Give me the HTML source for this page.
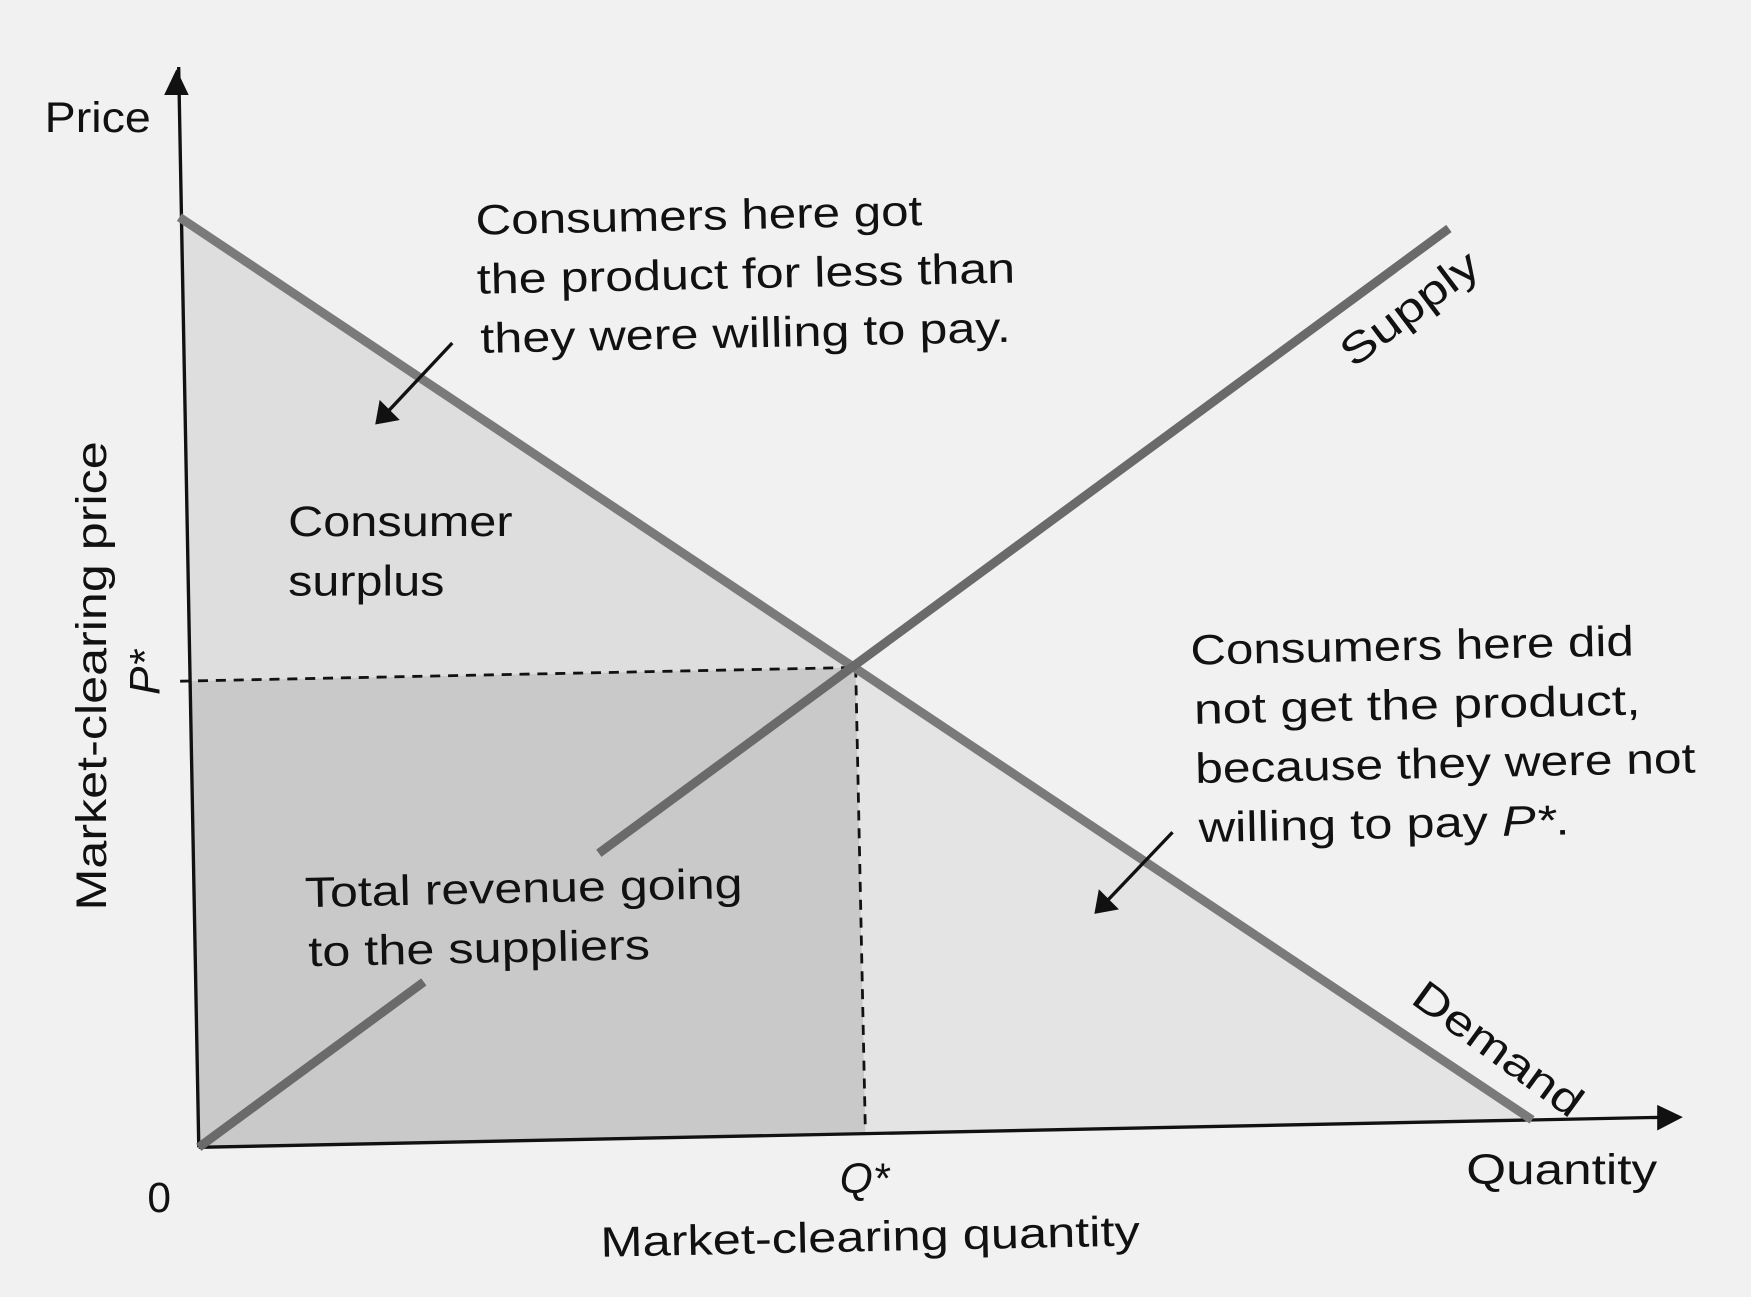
<!DOCTYPE html>
<html><head><meta charset="utf-8"><style>
html,body{margin:0;padding:0;background:#f1f1f1;}
svg{display:block;}
text{font-family:"Liberation Sans",sans-serif;fill:#111;}
</style></head><body>
<svg id="chart" width="1751" height="1297" viewBox="0 0 1568 1161" preserveAspectRatio="none" xmlns="http://www.w3.org/2000/svg">
<rect width="1568" height="1161" fill="#f1f1f1"/>
<g id="fills"></g>
<g id="lines"></g>
<g font-size="38" lengthAdjust="spacingAndGlyphs">
<text x="40" y="118" textLength="95" lengthAdjust="spacingAndGlyphs">Price</text>
<text x="1313" y="1060" textLength="171" lengthAdjust="spacingAndGlyphs">Quantity</text>
<text x="132" y="1085">0</text>
<text x="752" y="1068" font-style="italic">Q*</text>
<text x="538" y="1125" textLength="483" lengthAdjust="spacingAndGlyphs" transform="rotate(-1.2 538 1125)">Market-clearing quantity</text>
<text x="95" y="815" textLength="420" lengthAdjust="spacingAndGlyphs" transform="rotate(-90 95 815)">Market-clearing price</text>
<text x="143" y="622" transform="rotate(-90 143 622)" font-style="italic">P*</text>
<g transform="rotate(-1.2 426 200)">
<text x="426" y="210" textLength="400" lengthAdjust="spacingAndGlyphs">Consumers here got</text>
<text x="426" y="263" textLength="482" lengthAdjust="spacingAndGlyphs">the product for less than</text>
<text x="428" y="316" textLength="475" lengthAdjust="spacingAndGlyphs">they were willing to pay.</text></g>
<text x="258" y="480" textLength="201" lengthAdjust="spacingAndGlyphs">Consumer</text>
<text x="258" y="533" textLength="140" lengthAdjust="spacingAndGlyphs">surplus</text>
<g transform="rotate(-1.2 273 800)">
<text x="273" y="812" textLength="392" lengthAdjust="spacingAndGlyphs">Total revenue going</text>
<text x="275" y="865" textLength="306" lengthAdjust="spacingAndGlyphs">to the suppliers</text></g>
<g transform="rotate(-1.2 1066 580)">
<text x="1066" y="595" textLength="397" lengthAdjust="spacingAndGlyphs">Consumers here did</text>
<text x="1068" y="648" textLength="400" lengthAdjust="spacingAndGlyphs">not get the product,</text>
<text x="1068" y="701" textLength="448" lengthAdjust="spacingAndGlyphs">because they were not</text>
<text x="1070" y="754" textLength="332" lengthAdjust="spacingAndGlyphs">willing to pay <tspan font-style="italic">P*</tspan>.</text></g>
<text x="1212" y="330" textLength="145" lengthAdjust="spacingAndGlyphs" transform="rotate(-37 1212 330)">Supply</text>
<text x="1262" y="897" textLength="178" lengthAdjust="spacingAndGlyphs" transform="rotate(36 1262 897)">Demand</text>
</g>
</svg>
<script>
const demandQ=[0,91];
const demandP=[87,0];
const supplyQ=[0,86.6];
const supplyP=[0,83.5];
const eqQ=[45.5];
const eqP=[43.6];
const NS="http://www.w3.org/2000/svg";
function px(u,v){return 178+u*13.12-v*0.2;}
function py(u,v){return 1027-u*0.27-v*9.57;}
function P(u,v){return px(u,v).toFixed(1)+","+py(u,v).toFixed(1);}
function mk(tag,attrs,parent){const e=document.createElementNS(NS,tag);for(const k in attrs)e.setAttribute(k,attrs[k]);document.getElementById(parent).appendChild(e);return e;}
const q=eqQ[0],p=eqP[0];
let e;
e=mk("polygon",{points:[P(0,demandP[0]),P(q,p),P(0,p)].join(" "),fill:"#dedede"},"fills");


e=mk("polygon",{points:[P(0,0),P(0,p),P(q,p),P(q,0)].join(" "),fill:"#c9c9c9"},"fills");


e=mk("polygon",{points:[P(q,0),P(q,p),P(demandQ[1],0)].join(" "),fill:"#e4e4e4"},"fills");


e=mk("line",{x1:px(0,0),y1:py(0,0),x2:px(0,100)+2,y2:py(0,100)-10,stroke:"#111","stroke-width":3},"lines");


e=mk("polygon",{points:"158,62 147,85 169,85",fill:"#111"},"lines");


e=mk("line",{x1:px(0,0),y1:py(0,0),x2:1495,y2:1000,stroke:"#111","stroke-width":3},"lines");


e=mk("polygon",{points:"1507,1000 1484,989 1484,1012",fill:"#111"},"lines");


e=mk("line",{x1:px(0,p)-8,y1:py(0,p),x2:px(q,p),y2:py(q,p),stroke:"#111","stroke-width":2.5,"stroke-dasharray":"9,7"},"lines");


e=mk("line",{x1:px(q,p),y1:py(q,p),x2:px(q,0),y2:py(q,0),stroke:"#111","stroke-width":2.5,"stroke-dasharray":"9,7"},"lines");


e=mk("line",{x1:px(demandQ[0],demandP[0]),y1:py(demandQ[0],demandP[0]),x2:px(demandQ[1],demandP[1]),y2:py(demandQ[1],demandP[1]),stroke:"#7a7a7a","stroke-width":8},"lines");


const s=(t)=>[supplyQ[0]+(supplyQ[1]-supplyQ[0])*t,supplyP[0]+(supplyP[1]-supplyP[0])*t];
[[0,0.18],[0.32,1]].forEach(function(seg,i){const a=s(seg[0]),b=s(seg[1]);
e=mk("line",{x1:px(a[0],a[1]),y1:py(a[0],a[1]),x2:px(b[0],b[1]),y2:py(b[0],b[1]),stroke:"#6a6a6a","stroke-width":8},"lines");


});
[[405,307,336,380],[1050,745,980,818]].forEach(function(a,i){
e=mk("line",{x1:a[0],y1:a[1],x2:a[2]+8,y2:a[3]-8,stroke:"#111","stroke-width":3},"lines");


e=mk("polygon",{points:a[2]+","+a[3]+" "+(a[2]+4)+","+(a[3]-22)+" "+(a[2]+22)+","+(a[3]-4),fill:"#111"},"lines");


});
</script>
</body></html>
